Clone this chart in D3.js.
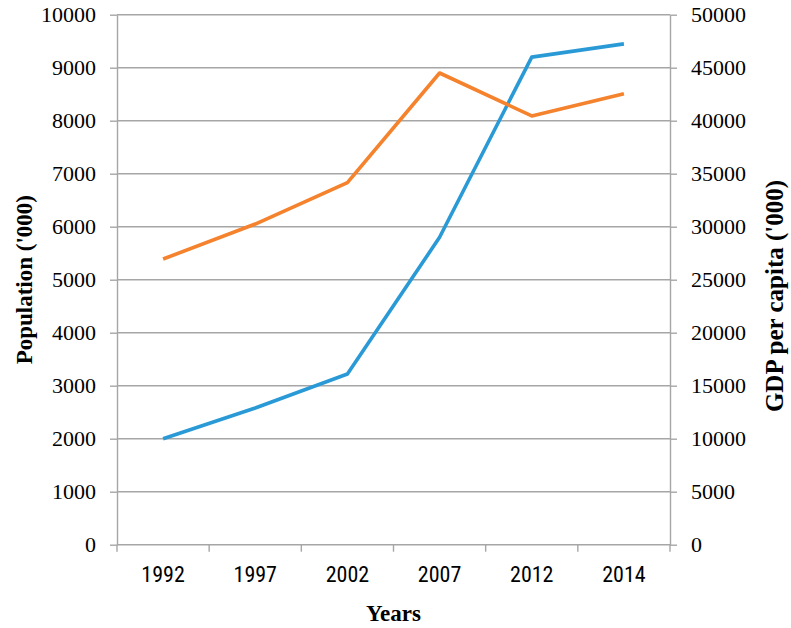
<!DOCTYPE html>
<html>
<head>
<meta charset="utf-8">
<script src="https://cdn.jsdelivr.net/npm/d3@7"></script>
<style>
  body { margin: 0; background: #fff; }
</style>
</head>
<body>
<div id="chart"></div>
<script>
const years = ["1992", "1997", "2002", "2007", "2012", "2014"];
// Population ('000), read against left axis
const population = [2000, 2580, 3220, 5800, 9200, 9450];
// GDP per capita ('000), read against right axis
const gdp = [26950, 30250, 34150, 44500, 40450, 42550];
const popTicks = [0, 1000, 2000, 3000, 4000, 5000, 6000, 7000, 8000, 9000, 10000];
const gdpTicks = [0, 5000, 10000, 15000, 20000, 25000, 30000, 35000, 40000, 45000, 50000];

const width = 791, height = 628;
const margin = { top: 14.7, right: 121, bottom: 83.3, left: 117 };
const innerWidth = width - margin.left - margin.right,
  innerHeight = height - margin.top - margin.bottom;

const gridColor = "#a6a6a6";
const serif = '"Liberation Serif"';

const svg = d3.select("#chart")
  .append("svg")
  .attr("width", width)
  .attr("height", height)
  .append("g")
  .attr("transform", `translate(${margin.left},${margin.top})`);

const x = d3.scaleBand().domain(years).range([0, innerWidth]);
const y = d3.scaleLinear().domain([0, 10000]).range([innerHeight, 0]);
const y2 = d3.scaleLinear().domain([0, 50000]).range([innerHeight, 0]);

// horizontal gridlines
svg.append("g")
  .selectAll("line")
  .data(popTicks)
  .join("line")
  .attr("x1", 0)
  .attr("x2", innerWidth)
  .attr("y1", (d) => y(d))
  .attr("y2", (d) => y(d))
  .attr("stroke", gridColor)
  .attr("stroke-width", 1.4);

// left axis
const left = svg.append("g")
  .call(d3.axisLeft(y).tickValues(popTicks).tickFormat(d3.format("d"))
    .tickSize(7).tickPadding(14).tickSizeOuter(0));
left.selectAll("line").attr("stroke", gridColor).attr("stroke-width", 1.4);
left.select(".domain").attr("stroke", gridColor).attr("stroke-width", 1.4);
left.selectAll("text")
  .style("font-family", serif)
  .style("font-size", "22px")
  .attr("fill", "#000");

// right axis
const right = svg.append("g")
  .attr("transform", `translate(${innerWidth},0)`)
  .call(d3.axisRight(y2).tickValues(gdpTicks).tickFormat(d3.format("d"))
    .tickSize(7).tickPadding(14).tickSizeOuter(0));
right.selectAll("line").attr("stroke", gridColor).attr("stroke-width", 1.4);
right.select(".domain").attr("stroke", gridColor).attr("stroke-width", 1.4);
right.selectAll("text")
  .style("font-family", serif)
  .style("font-size", "22px")
  .attr("fill", "#000");

// bottom axis: labels at band centres, ticks at band edges
const bottom = svg.append("g")
  .attr("transform", `translate(0,${innerHeight})`)
  .call(d3.axisBottom(x).tickSize(0).tickPadding(22));
bottom.select(".domain").remove();
bottom.selectAll("text")
  .style("font-family", '"Roboto Condensed"')
  .style("font-size", "22px")
  .attr("fill", "#000");

const edges = years.map((d) => x(d)).concat([innerWidth]);
svg.append("g")
  .selectAll("line")
  .data(edges)
  .join("line")
  .attr("x1", (d) => d)
  .attr("x2", (d) => d)
  .attr("y1", innerHeight)
  .attr("y2", innerHeight + 7)
  .attr("stroke", gridColor)
  .attr("stroke-width", 1.4);

const cx = (d) => x(d) + x.bandwidth() / 2;

svg.append("path")
  .datum(years.map((d, i) => [d, population[i]]))
  .attr("fill", "none")
  .attr("stroke", "#2a9ad6")
  .attr("stroke-width", 3.6)
  .attr("stroke-linejoin", "round")
  .attr("d", d3.line().x((d) => cx(d[0])).y((d) => y(d[1])));

svg.append("path")
  .datum(years.map((d, i) => [d, gdp[i]]))
  .attr("fill", "none")
  .attr("stroke", "#f5822c")
  .attr("stroke-width", 3.6)
  .attr("stroke-linejoin", "round")
  .attr("d", d3.line().x((d) => cx(d[0])).y((d) => y2(d[1])));

// axis titles
svg.append("text")
  .attr("x", innerWidth / 2)
  .attr("y", 621 - margin.top)
  .attr("text-anchor", "middle")
  .style("font-family", serif)
  .style("font-weight", "bold")
  .style("font-size", "23px")
  .text("Years");

svg.append("text")
  .attr("transform", `translate(${32 - margin.left},${innerHeight / 2}) rotate(-90)`)
  .attr("text-anchor", "middle")
  .style("font-family", serif)
  .style("font-weight", "bold")
  .style("font-size", "23px")
  .text("Population ('000)");

svg.append("text")
  .attr("transform", `translate(${783 - margin.left},${296 - margin.top}) rotate(-90)`)
  .attr("text-anchor", "middle")
  .style("font-family", serif)
  .style("font-weight", "bold")
  .style("font-size", "25px")
  .text("GDP per capita ('000)");
</script>
</body>
</html>
